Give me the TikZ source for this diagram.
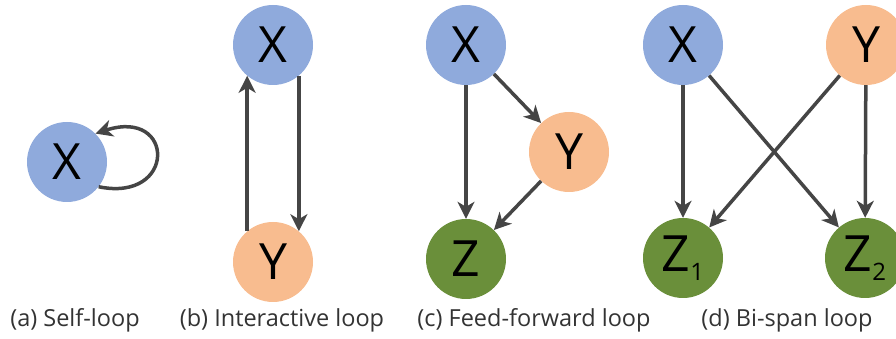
\documentclass[tikz,border=0pt]{standalone}
\usepackage{fontspec}
\setmainfont{Open Sans}
\usetikzlibrary{arrows.meta}
\definecolor{nblue}{HTML}{8FAADC}
\definecolor{norange}{HTML}{F8BC8F}
\definecolor{ngreen}{HTML}{6A8F3A}
\definecolor{arr}{HTML}{454545}
\newcommand{\lowsub}[1]{{\fontsize{24}{24}\selectfont\raisebox{-9pt}{#1}}}
\begin{document}
\begin{tikzpicture}[x=1pt,y=1pt,
  nd/.style={circle,minimum size=80pt,inner sep=0pt,font=\fontsize{50}{52}\selectfont},
  bn/.style={nd,fill=nblue},
  on/.style={nd,fill=norange},
  gn/.style={nd,fill=ngreen},
  conn/.style={draw=arr,line width=3.5pt,-{Stealth[length=17pt,width=17pt,inset=5pt]}},
  caplbl/.style={font=\fontsize{23.5}{26}\selectfont,text=black!80}]
\useasboundingbox (0,0) rectangle (896,339);
% (a)
\node[bn] (xa) at (67,177) {X};
\draw[conn] (xa.-38) .. controls +(78,-16) and +(80,26) .. (xa.45);
\node[caplbl] (la) at (75,19) {(a) Self-loop};
% (b)
\node[bn] (xb) at (273,294) {X};
\node[on] (yb) at (273,77) {Y};
\draw[conn] (yb.130) -- (xb.230);
\draw[conn] (xb.-50) -- (yb.50);
\node[caplbl] (lb) at (282,19) {(b) Interactive loop};
% (c)
\node[bn] (xc) at (466,294) {X};
\node[on] (yc) at (569,187) {Y};
\node[gn] (zc) at (466,80) {Z};
\draw[conn] (xc) -- (zc);
\draw[conn] (xc) -- (yc);
\draw[conn] (yc) -- (zc);
\node[caplbl] (lc) at (534,19) {(c) Feed-forward loop};
% (d)
\node[bn] (xd) at (683,294) {X};
\node[on] (yd) at (866,294) {Y};
\node[gn] (z1) at (683,81) {Z\lowsub{1}};
\node[gn] (z2) at (865,81) {Z\lowsub{2}};
\draw[conn] (xd) -- (z1);
\draw[conn] (yd) -- (z2);
\draw[conn] (xd) -- (z2);
\draw[conn] (yd) -- (z1);
\node[caplbl] (ld) at (787,19) {(d) Bi-span loop};
\end{tikzpicture}
\end{document}
